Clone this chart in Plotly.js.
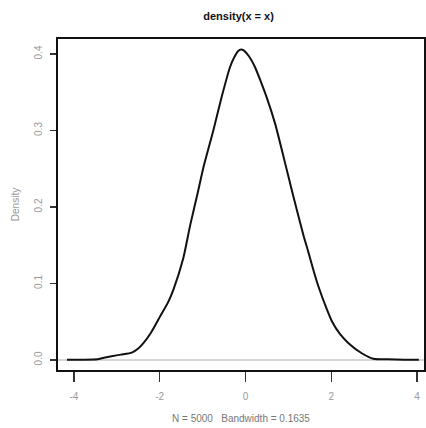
<!DOCTYPE html>
<html>
<head>
<meta charset="utf-8">
<script src="https://cdn.plot.ly/plotly-3.0.1.min.js"></script>
<style>html,body{margin:0;padding:0;background:#fff;}#chart{width:426px;height:428px;}</style>
</head>
<body>
<div id="chart"></div>
<script>
var xValues = [-4.16, -3.8, -3.45, -3.3, -3.12, -2.9, -2.65, -2.5, -2.38, -2.2, -1.99, -1.8, -1.68, -1.45, -1.29, -1.1, -0.98, -0.75, -0.555, -0.36, -0.25, -0.17, -0.1, -0.05, 0.08, 0.22, 0.35, 0.49, 0.69, 0.92, 1.11, 1.35, 1.46, 1.58, 1.7, 1.89, 2.01, 2.2, 2.4, 2.71, 2.98, 3.32, 3.7, 4.04];
var densityValues = [0.0002, 0.0004, 0.001, 0.003, 0.005, 0.007, 0.0096, 0.015, 0.022, 0.036, 0.057, 0.076, 0.092, 0.133, 0.176, 0.222, 0.252, 0.300, 0.344, 0.383, 0.397, 0.404, 0.406, 0.405, 0.397, 0.383, 0.365, 0.344, 0.309, 0.258, 0.215, 0.163, 0.142, 0.118, 0.096, 0.067, 0.051, 0.034, 0.022, 0.0088, 0.0015, 0.0008, 0.0003, 0.0002];
var xTicks = [-4, -2, 0, 2, 4];
var xTickLabels = ['-4', '-2', '0', '2', '4'];
var yTicks = [0, 0.1, 0.2, 0.3, 0.4];
var yTickLabels = ['0.0', '0.1', '0.2', '0.3', '0.4'];
var titleText = 'density(x = x)';
var xTitle = 'N = 5000   Bandwidth = 0.1635';
var yTitle = 'Density';

var trace = {
  x: xValues, y: densityValues, type: 'scatter', mode: 'lines',
  line: {color: '#111', width: 2, shape: 'spline', smoothing: 0.6}, hoverinfo: 'skip'
};
var layout = {
  width: 426, height: 428,
  margin: {l: 58, r: 2, t: 39, b: 58},
  paper_bgcolor: '#fff', plot_bgcolor: '#fff',
  showlegend: false,
  font: {family: 'Liberation Sans, Arial, sans-serif', size: 10, color: '#999'},
  title: {text: titleText, x: 0.56, xanchor: 'center', y: 0.962, yanchor: 'middle',
          font: {family: 'Liberation Sans, Arial, sans-serif', size: 11, color: '#111', weight: 'bold'}},
  xaxis: {
    range: [-4.37, 4.16], showgrid: false, zeroline: false,
    showline: true, mirror: true, linecolor: '#111', linewidth: 2,
    tickmode: 'array', tickvals: xTicks, ticktext: xTickLabels,
    ticks: 'outside', ticklen: 10, tickwidth: 1.5, tickcolor: '#333',
    ticklabelstandoff: 6,
    tickfont: {size: 10, color: '#999'},
    title: {text: xTitle, standoff: 14, font: {size: 10, color: '#777'}}
  },
  yaxis: {
    range: [-0.0131, 0.4196], showgrid: false, zeroline: false,
    showline: true, mirror: true, linecolor: '#111', linewidth: 2,
    tickmode: 'array', tickvals: yTicks, ticktext: yTickLabels,
    ticks: 'outside', ticklen: 6, tickwidth: 1.5, tickcolor: '#333',
    tickangle: -90, ticklabelstandoff: 4,
    tickfont: {size: 10, color: '#999'},
    title: {text: yTitle, standoff: 12, font: {size: 10, color: '#999'}}
  },
  shapes: [{type: 'line', xref: 'paper', x0: 0, x1: 1, yref: 'y', y0: 0, y1: 0,
            line: {color: '#c8c8c8', width: 1.5}, layer: 'below'}]
};
Plotly.newPlot('chart', [trace], layout, {displayModeBar: false, staticPlot: true});
</script>
</body>
</html>
